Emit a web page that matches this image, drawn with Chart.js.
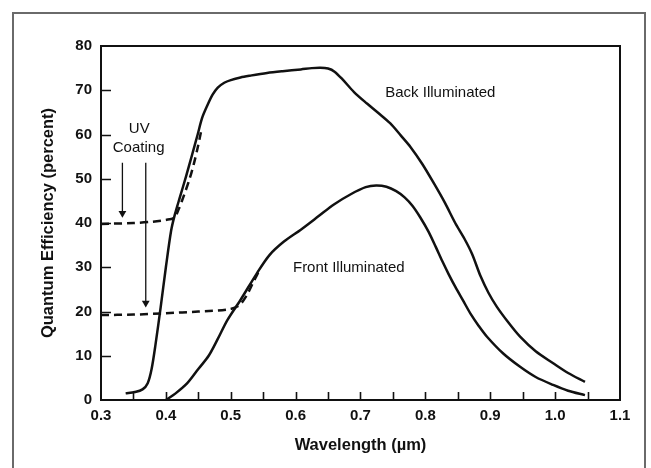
<!DOCTYPE html>
<html>
<head>
<meta charset="utf-8">
<script src="https://cdn.jsdelivr.net/npm/chart.js@4.4.1/dist/chart.umd.min.js"></script>
<style>
html,body{margin:0;padding:0;background:#fff;}
#wrap{width:651px;height:468px;position:relative;}
</style>
</head>
<body>
<div id="wrap"><canvas id="c" width="651" height="468"></canvas></div>
<script>
// ---- data ----
const backX  = [0.338,0.352,0.364,0.372,0.378,0.384,0.392,0.400,0.408,0.414,0.422,0.431,0.440,0.449,0.456,0.464,0.472,0.480,0.490,0.500,0.515,0.530,0.556,0.580,0.608,0.625,0.638,0.650,0.660,0.672,0.690,0.710,0.728,0.746,0.762,0.777,0.795,0.813,0.830,0.846,0.860,0.872,0.885,0.897,0.910,0.928,0.946,0.970,0.997,1.020,1.046];
const backQE = [1.5,1.8,2.4,3.8,7.0,12.5,21.0,30.0,38.2,42.0,46.0,50.5,55.2,60.0,63.8,66.6,69.0,70.6,71.7,72.3,72.9,73.3,73.9,74.3,74.7,75.0,75.1,74.9,74.2,72.5,69.6,67.0,64.8,62.5,59.8,57.2,53.4,49.0,44.6,40.0,36.5,33.0,28.0,24.3,21.1,17.5,14.3,11.0,8.3,6.1,4.1];

const frontX  = [0.400,0.415,0.433,0.450,0.466,0.480,0.495,0.515,0.541,0.560,0.582,0.608,0.635,0.659,0.685,0.708,0.724,0.740,0.755,0.768,0.780,0.792,0.805,0.816,0.826,0.836,0.846,0.858,0.870,0.882,0.895,0.920,0.946,0.970,0.997,1.020,1.046];
const frontQE = [0.0,1.5,3.8,7.0,10.0,13.8,18.1,22.6,28.8,32.8,35.8,38.5,41.5,44.2,46.5,48.1,48.5,48.2,47.2,45.8,43.9,41.3,38.0,34.6,31.4,28.4,25.6,22.5,19.4,16.8,14.3,10.5,7.5,5.2,3.4,2.1,1.1];

const uvBackX  = [0.300,0.350,0.380,0.400,0.413,0.420,0.428,0.436,0.443,0.449,0.454];
const uvBackQE = [39.8,40.0,40.3,40.7,41.2,43.2,46.3,49.7,53.3,57.0,60.5];

const uvFrontX  = [0.300,0.350,0.400,0.450,0.497,0.513,0.524,0.534,0.545];
const uvFrontQE = [19.2,19.3,19.6,20.0,20.5,21.4,23.5,26.4,29.6];

// arrows: [x, yStart, yEnd]
const arrow1 = [0.333, 53.6, 42.2];
const arrow2 = [0.369, 53.6, 21.9];

const xTickValues = [0.3,0.4,0.5,0.6,0.7,0.8,0.9,1.0,1.1];
const xTickLabels = ['0.3','0.4','0.5','0.6','0.7','0.8','0.9','1.0','1.1'];
const xMinorMarks = [0.35,0.4,0.45,0.5,0.55,0.6,0.65,0.7,0.75,0.8,0.85,0.9,0.95,1.0,1.05];
const yTickValues = [0,10,20,30,40,50,60,70,80];
const yMarks = [10,20,30,40,50,60,70];

// annotations: [text, x, y]
const notes = [
  ['UV', 0.359, 61.2],
  ['Coating', 0.358, 57.0],
  ['Back Illuminated', 0.823, 69.3],
  ['Front Illuminated', 0.682, 29.8]
];

const pts = (xs, ys) => xs.map((x, i) => ({x: x, y: ys[i]}));
const INK = '#111';
const FONT = "'Liberation Sans', Arial, Helvetica, sans-serif";

const decor = {
  id: 'decor',
  beforeDraw(chart) {
    const ctx = chart.ctx;
    ctx.save();
    ctx.strokeStyle = '#6a6a6a';
    ctx.lineWidth = 2;
    ctx.beginPath();
    ctx.moveTo(13, 470); ctx.lineTo(13, 13); ctx.lineTo(645, 13); ctx.lineTo(645, 470);
    ctx.stroke();
    ctx.restore();
  },
  afterDatasetsDraw(chart) {
    const {ctx, chartArea: a, scales: {x, y}} = chart;
    ctx.save();
    ctx.strokeStyle = INK;
    ctx.lineWidth = 2;
    ctx.strokeRect(a.left, a.top, a.right - a.left, a.bottom - a.top);
    ctx.lineWidth = 1.6;
    ctx.beginPath();
    xMinorMarks.forEach(v => {
      const px = Math.round(x.getPixelForValue(v)) + 0.5;
      ctx.moveTo(px, a.bottom); ctx.lineTo(px, a.bottom - 8);
    });
    yMarks.forEach(v => {
      const py = Math.round(y.getPixelForValue(v)) + 0.5;
      ctx.moveTo(a.left, py); ctx.lineTo(a.left + 10, py);
    });
    ctx.stroke();
    ctx.fillStyle = INK;
    ctx.font = '15px ' + FONT;
    ctx.textAlign = 'center';
    ctx.textBaseline = 'middle';
    notes.forEach(n => ctx.fillText(n[0], x.getPixelForValue(n[1]), y.getPixelForValue(n[2])));
    ctx.restore();
  }
};

const lineDs = (data, dash) => ({
  data: data,
  borderColor: INK,
  borderWidth: 2.5,
  borderDash: dash || [],
  pointRadius: 0,
  fill: false,
  tension: 0.3
});

const arrowDs = (a) => ({
  data: [{x: a[0], y: a[1]}, {x: a[0], y: a[2]}],
  borderColor: INK,
  borderWidth: 1.3,
  pointRadius: [0, 4.5],
  pointStyle: 'triangle',
  rotation: 180,
  pointBackgroundColor: INK,
  pointBorderColor: INK,
  pointBorderWidth: 0
});

new Chart(document.getElementById('c'), {
  type: 'line',
  data: {
    datasets: [
      lineDs(pts(backX, backQE)),
      lineDs(pts(frontX, frontQE)),
      lineDs(pts(uvBackX, uvBackQE), [8, 5]),
      lineDs(pts(uvFrontX, uvFrontQE), [8, 5]),
      arrowDs(arrow1),
      arrowDs(arrow2)
    ]
  },
  options: {
    responsive: false,
    animation: false,
    events: [],
    layout: {padding: {top: 46, right: 31, left: 0, bottom: 0}},
    plugins: {legend: {display: false}, tooltip: {enabled: false}},
    scales: {
      x: {
        type: 'linear',
        min: 0.3, max: 1.1,
        afterBuildTicks: s => { s.ticks = xTickValues.map(v => ({value: v})); },
        afterFit: s => { s.height = 68; },
        grid: {display: false, drawTicks: false},
        border: {display: false},
        ticks: {
          padding: 7,
          color: INK,
          font: {family: FONT, size: 15, weight: 'bold'},
          callback: (v, i) => xTickLabels[i]
        },
        title: {
          display: true,
          text: 'Wavelength (\u00b5m)',
          color: INK,
          font: {family: FONT, size: 16.5, weight: 'bold'},
          padding: {top: 0, bottom: 13}
        }
      },
      y: {
        type: 'linear',
        min: 0, max: 80,
        afterBuildTicks: s => { s.ticks = yTickValues.map(v => ({value: v})); },
        afterFit: s => { s.width = 101; },
        grid: {display: false, drawTicks: false},
        border: {display: false},
        ticks: {
          padding: 9,
          color: INK,
          font: {family: FONT, size: 15, weight: 'bold'},
          callback: (v) => String(v)
        },
        title: {
          display: true,
          text: 'Quantum Efficiency (percent)',
          color: INK,
          font: {family: FONT, size: 16.5, weight: 'bold'},
          padding: {top: 39, bottom: 0}
        }
      }
    }
  },
  plugins: [decor]
});
</script>
</body>
</html>
